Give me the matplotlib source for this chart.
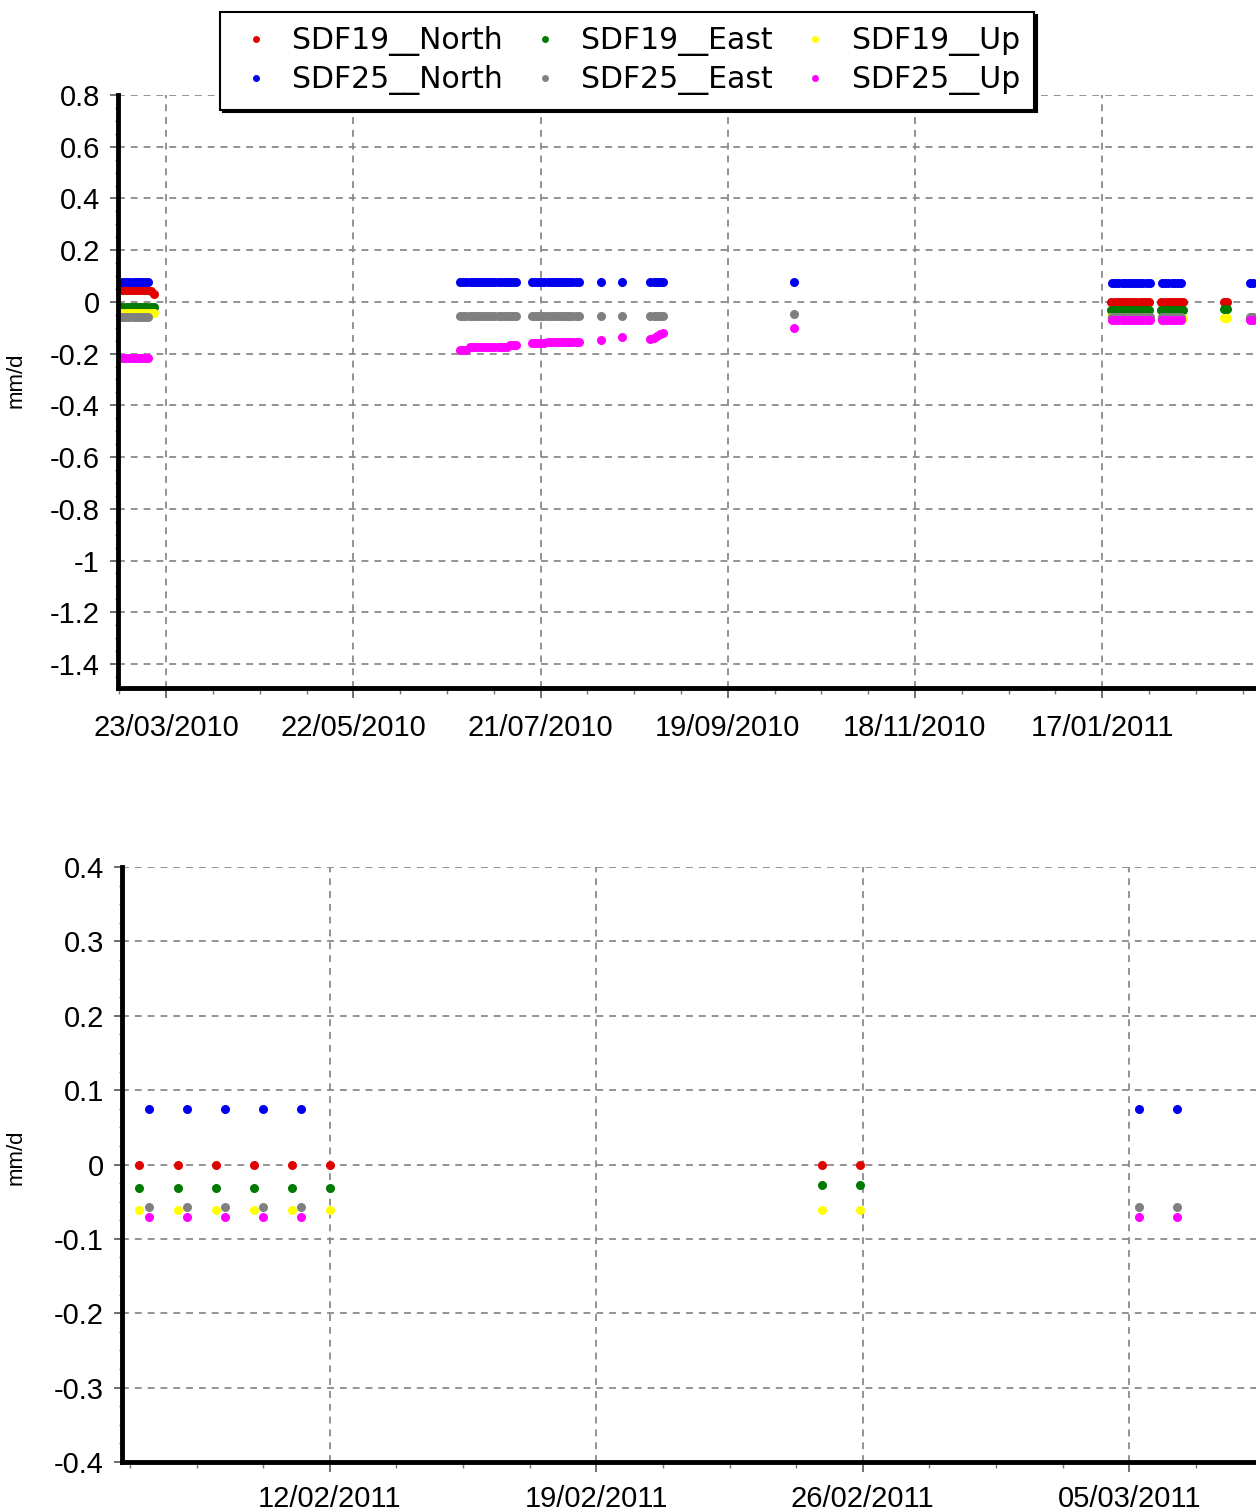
"""Daily velocity plot for SDF19 / SDF25 GPS stations."""

import matplotlib
matplotlib.use("Agg")
import matplotlib.dates as mdates
import matplotlib.pyplot as plt
import pandas as pd
from matplotlib.lines import Line2D
from matplotlib.ticker import FixedLocator, FuncFormatter

plt.rcParams["font.family"] = ["Liberation Sans", "DejaVu Sans"]
plt.rcParams["axes.unicode_minus"] = False

# ---------------------------------------------------------------- data
sdf19_dates = pd.DatetimeIndex(
    list(pd.date_range("2010-03-08", "2010-03-19"))
    + list(pd.date_range("2011-01-20", "2011-02-01"))
    + list(pd.date_range("2011-02-05", "2011-02-12"))
    + list(pd.to_datetime(["2011-02-24 22:00", "2011-02-25 22:00"]))
)
sdf19_north = [
    0.046, 0.046, 0.047, 0.046, 0.046, 0.047, 0.046, 0.046, 0.046, 0.045, 0.044, 0.032,
    0.0, 0.0, 0.0, 0.0, 0.0, 0.0, 0.0, 0.0, 0.0, 0.0, 0.0, 0.0, 0.0,
    0.0, 0.0, 0.0, 0.0, 0.0, 0.0, 0.0, 0.0,
    0.0, 0.0,
]
sdf19_east = [
    -0.021, -0.021, -0.021, -0.021, -0.021, -0.021, -0.021, -0.021, -0.021, -0.021, -0.021, -0.021,
    -0.030, -0.030, -0.030, -0.030, -0.030, -0.030, -0.030, -0.030, -0.030, -0.030, -0.030, -0.030, -0.030,
    -0.031, -0.031, -0.031, -0.031, -0.031, -0.031, -0.031, -0.031,
    -0.027, -0.027,
]
sdf19_up = [
    -0.042, -0.042, -0.042, -0.042, -0.042, -0.042, -0.042, -0.042, -0.042, -0.042, -0.042, -0.042,
    -0.060, -0.060, -0.060, -0.060, -0.060, -0.060, -0.060, -0.060, -0.060, -0.060, -0.060, -0.060, -0.060,
    -0.061, -0.061, -0.061, -0.061, -0.061, -0.061, -0.061, -0.061,
    -0.061, -0.061,
]

sdf25_dates = pd.DatetimeIndex(
    list(pd.date_range("2010-03-08 06:00", "2010-03-17 06:00"))
    + list(pd.date_range("2010-06-25 06:00", "2010-07-13 06:00"))
    + list(pd.date_range("2010-07-18 06:00", "2010-08-02 06:00"))
    + list(pd.to_datetime(["2010-08-09 06:00", "2010-08-16 06:00"]))
    + list(pd.date_range("2010-08-25 06:00", "2010-08-29 06:00"))
    + list(pd.to_datetime(["2010-10-10 06:00"]))
    + list(pd.date_range("2011-01-20 06:00", "2011-02-01 06:00"))
    + list(pd.date_range("2011-02-05 06:00", "2011-02-11 06:00"))
    + list(pd.to_datetime(["2011-03-05 06:00", "2011-03-06 06:00"]))
)
sdf25_north = [
    0.078, 0.078, 0.078, 0.078, 0.078, 0.078, 0.078, 0.078, 0.078, 0.078,
    0.078, 0.078, 0.078, 0.078, 0.078, 0.078, 0.078, 0.078, 0.078, 0.078,
    0.078, 0.078, 0.078, 0.078, 0.078, 0.078, 0.078, 0.078, 0.078,
    0.078, 0.078, 0.078, 0.078, 0.078, 0.078, 0.078, 0.078,
    0.078, 0.078, 0.078, 0.078, 0.078, 0.078, 0.078, 0.078,
    0.078, 0.078,
    0.078, 0.078, 0.078, 0.078, 0.078,
    0.078,
    0.074, 0.074, 0.074, 0.074, 0.074, 0.074, 0.074, 0.074, 0.074, 0.074, 0.074, 0.074, 0.074,
    0.074, 0.074, 0.074, 0.074, 0.074, 0.074, 0.074,
    0.074, 0.074,
]
sdf25_east = [
    -0.057, -0.057, -0.057, -0.057, -0.057, -0.057, -0.057, -0.057, -0.057, -0.057,
    -0.053, -0.053, -0.053, -0.053, -0.053, -0.053, -0.053, -0.053, -0.053, -0.053,
    -0.053, -0.053, -0.053, -0.053, -0.053, -0.053, -0.053, -0.053, -0.053,
    -0.053, -0.053, -0.053, -0.053, -0.053, -0.053, -0.053, -0.053,
    -0.053, -0.053, -0.053, -0.053, -0.053, -0.053, -0.053, -0.053,
    -0.053, -0.053,
    -0.053, -0.053, -0.053, -0.053, -0.053,
    -0.047,
    -0.057, -0.057, -0.057, -0.057, -0.057, -0.057, -0.057, -0.057, -0.057, -0.057, -0.057, -0.057, -0.057,
    -0.057, -0.057, -0.057, -0.057, -0.057, -0.057, -0.057,
    -0.057, -0.057,
]
sdf25_up = [
    -0.217, -0.217, -0.217, -0.217, -0.217, -0.217, -0.217, -0.217, -0.217, -0.217,
    -0.186, -0.186, -0.186, -0.176, -0.176, -0.176, -0.176, -0.176, -0.176, -0.176,
    -0.176, -0.176, -0.176, -0.176, -0.176, -0.176, -0.167, -0.167, -0.167,
    -0.160, -0.160, -0.160, -0.160, -0.160, -0.154, -0.154, -0.154,
    -0.154, -0.154, -0.154, -0.154, -0.154, -0.154, -0.154, -0.154,
    -0.147, -0.137,
    -0.143, -0.138, -0.130, -0.125, -0.122,
    -0.100,
    -0.070, -0.070, -0.070, -0.070, -0.070, -0.070, -0.070, -0.070, -0.070, -0.070, -0.070, -0.070, -0.070,
    -0.070, -0.070, -0.070, -0.070, -0.070, -0.070, -0.070,
    -0.070, -0.070,
]

SERIES = [
    ("SDF19__North", sdf19_dates, sdf19_north, "#e00000"),
    ("SDF19__East", sdf19_dates, sdf19_east, "#007a00"),
    ("SDF19__Up", sdf19_dates, sdf19_up, "#ffff00"),
    ("SDF25__North", sdf25_dates, sdf25_north, "#0000ee"),
    ("SDF25__East", sdf25_dates, sdf25_east, "#808080"),
    ("SDF25__Up", sdf25_dates, sdf25_up, "#ff00ff"),
]

W, H = 1256, 1512
GRID_KW = dict(color="#8a8a8a", linestyle=(0, (3.8, 3.3)), linewidth=1.3)


def setup_axes(fig, left_px, top_px, bottom_px, x0, x1, px_per_day, ylim,
               major_dates, minor_dates, ymajor, yminor, ylabel_y, xpad):
    span_days = (pd.Timestamp(x1) - pd.Timestamp(x0)).total_seconds() / 86400
    ax = fig.add_axes([left_px / W, 1 - bottom_px / H,
                       span_days * px_per_day / W, (bottom_px - top_px) / H])
    for (label, dates, vals, color) in SERIES:
        ax.plot(dates, vals, "o", ms=6.5, mew=0, color=color, label=label)

    ax.set_xlim(pd.Timestamp(x0), pd.Timestamp(x1))
    ax.set_ylim(*ylim)

    ax.xaxis.set_major_locator(FixedLocator(mdates.date2num(major_dates)))
    ax.xaxis.set_minor_locator(FixedLocator(mdates.date2num(minor_dates)))
    ax.xaxis.set_major_formatter(mdates.DateFormatter("%d/%m/%Y"))
    ax.yaxis.set_major_locator(FixedLocator(ymajor))
    ax.yaxis.set_minor_locator(FixedLocator(yminor))
    ax.yaxis.set_major_formatter(FuncFormatter(lambda v, _: f"{round(v, 3) + 0.0:g}"))

    ax.tick_params(axis="x", which="major", length=7, width=1.2, color="#555555",
                   labelsize=21, pad=xpad)
    ax.tick_params(axis="x", which="minor", length=4, width=1.0, color="#777777")
    ax.tick_params(axis="y", which="major", length=6, width=1.2, color="#555555",
                   labelsize=21, pad=7)
    ax.tick_params(axis="y", which="minor", length=2.5, width=1.0, color="#777777")

    for side in ("top", "right"):
        ax.spines[side].set_visible(False)
    for side in ("left", "bottom"):
        ax.spines[side].set_linewidth(3.5)
        ax.spines[side].set_color("black")

    ax.set_axisbelow(True)
    ax.grid(which="major", **GRID_KW)
    # no horizontal grid line along the upper limit
    for tick in ax.yaxis.get_major_ticks():
        if abs(tick.get_loc() - ylim[1]) < 1e-9:
            tick.gridline.set_visible(False)

    ax.set_ylabel("mm/d", fontsize=16)
    ax.yaxis.set_label_coords(27 / W, 1 - ylabel_y / H, transform=fig.transFigure)
    return ax


fig = plt.figure(figsize=(W / 100, H / 100), dpi=100)

ax_top = setup_axes(
    fig, 118, 95, 688,
    "2010-03-07 14:00", "2011-03-25", 3.12,
    (-1.493, 0.8),
    pd.date_range("2010-03-23", periods=6, freq="60D"),
    pd.date_range("2010-03-08", "2011-03-25", freq="15D"),
    [0.8, 0.6, 0.4, 0.2, 0.0, -0.2, -0.4, -0.6, -0.8, -1.0, -1.2, -1.4],
    [0.8 - 0.05 * i for i in range(46)],
    380, 12,
)

ax_bot = setup_axes(
    fig, 122, 867, 1462,
    "2011-02-06 13:00", "2011-03-10", 38.07,
    (-0.4, 0.4),
    pd.date_range("2011-02-12", periods=4, freq="7D"),
    pd.date_range("2011-02-05", "2011-03-10", freq="42h"),
    [0.4, 0.3, 0.2, 0.1, 0.0, -0.1, -0.2, -0.3, -0.4],
    [0.4 - 0.025 * i for i in range(33)],
    1157, 9.5,
)

# legend: matplotlib fills columns first, so interleave SDF19 / SDF25
handles = {lab: Line2D([], [], marker="o", ls="none", ms=5, mew=0, color=c)
           for (lab, _, _, c) in SERIES}
order = ["SDF19__North", "SDF25__North", "SDF19__East",
         "SDF25__East", "SDF19__Up", "SDF25__Up"]
leg = fig.legend(
    [handles[k] for k in order], order,
    loc="upper left", bbox_to_anchor=(220 / W, 1 - 12 / H),
    ncol=3, frameon=True, fancybox=False,
    prop={"family": "DejaVu Sans", "size": 21.5},
    edgecolor="black", framealpha=1,
    shadow={"color": "black", "alpha": 1},
    borderaxespad=0, borderpad=0.48, handlelength=1.44, handletextpad=0.49,
    columnspacing=0.7, labelspacing=0.3,
)
leg.get_frame().set_linewidth(1.5)

fig.savefig("out.png", dpi=100)
